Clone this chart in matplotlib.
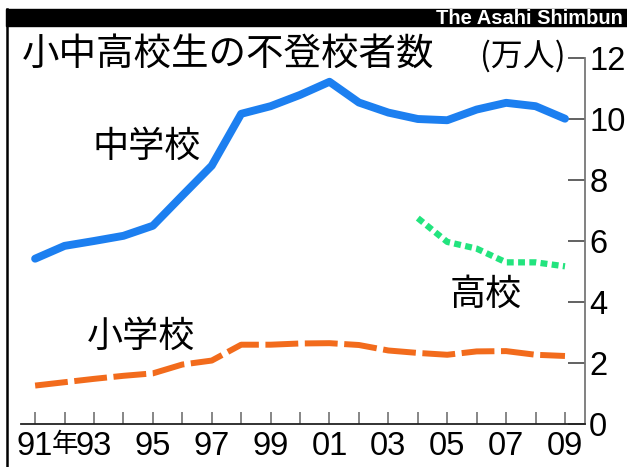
import matplotlib
matplotlib.use("Agg")
import matplotlib.pyplot as plt
from matplotlib import font_manager
from matplotlib.lines import Line2D
from matplotlib.patches import Rectangle

# data (万人)
years = list(range(1991, 2010))
junior = [5.42, 5.84, 6.00, 6.17, 6.50, 7.49, 8.47, 10.17, 10.42, 10.79,
          11.22, 10.54, 10.21, 10.00, 9.96, 10.31, 10.53, 10.42, 10.01]
elementary = [1.26, 1.37, 1.48, 1.58, 1.66, 1.95, 2.08, 2.60, 2.60, 2.64,
              2.65, 2.59, 2.41, 2.33, 2.27, 2.38, 2.39, 2.27, 2.23]
high_years = [2004, 2005, 2006, 2007, 2008, 2009]
high = [6.75, 5.97, 5.75, 5.30, 5.30, 5.17]

ytick_vals = [0, 2, 4, 6, 8, 10, 12]
xtick_labels = {1991: "91", 1992: "年", 1993: "93", 1995: "95", 1997: "97",
                1999: "99", 2001: "01", 2003: "03", 2005: "05", 2007: "07",
                2009: "09"}

names = {f.name for f in font_manager.fontManager.ttflist}
num_font = "Liberation Sans Narrow" if "Liberation Sans Narrow" in names else "Liberation Sans"
num_size = 28 if num_font.endswith("Narrow") else 23.5
jp = "Noto Sans CJK JP"
plt.rcParams['font.family'] = [num_font, jp, 'DejaVu Sans']

W, H = 627, 467
fig = plt.figure(figsize=(W / 100, H / 100), dpi=100)
fig.patch.set_facecolor("white")

ax = fig.add_axes([21 / W, 1 - 424 / H, (585 - 21) / W, (424 - 58) / H])
ax.set_facecolor("none")

ax.plot(years, junior, color="#1c7ff0", lw=5.7, solid_capstyle="round",
        solid_joinstyle="round", zorder=3)
ax.plot(years, elementary, color="#f26b1c", lw=4.3, dashes=(5.5, 1.1),
        zorder=3)
ax.plot(high_years, high, color="#22e47e", lw=4.5, dashes=(1.1, 0.7),
        zorder=3)

ax.set_xlim(1990.52, 2009.68)
ax.set_ylim(0, 12)

for s in ["top", "left"]:
    ax.spines[s].set_visible(False)
ax.spines["right"].set_color("#777777")
ax.spines["right"].set_linewidth(1.3)
ax.spines["bottom"].set_color("#222222")
ax.spines["bottom"].set_linewidth(1.3)

ax.yaxis.tick_right()
ax.set_yticks(ytick_vals)
ax.set_yticklabels([str(v) for v in ytick_vals], fontsize=num_size)
ax.tick_params(axis="y", direction="in", length=12, width=1.3,
               color="#555555", pad=3)

ax.set_xticks(years)
ax.set_xticklabels([xtick_labels.get(y, "") for y in years], fontsize=num_size)
ax.tick_params(axis="x", direction="in", length=9, width=1.1,
               color="#666666", pad=5)
for lab in ax.get_xticklabels():
    if lab.get_text() == "年":
        lab.set_fontfamily([jp])
        lab.set_fontsize(19)

ax.text(1994.8, 9.1, "中学校", fontsize=26, fontfamily=[jp],
        ha="center", va="center")
ax.text(1994.6, 2.85, "小学校", fontsize=26, fontfamily=[jp],
        ha="center", va="center")
ax.text(2006.3, 4.25, "高校", fontsize=26, fontfamily=[jp],
        ha="center", va="center")

# title and unit
fig.text(22 / W, 1 - 54 / H, "小中高校生の不登校者数", fontsize=27,
         fontfamily=[jp], ha="left", va="center")
fig.text(566 / W, 1 - 56 / H, "(万人)", fontsize=23,
         fontfamily=[jp], ha="right", va="center")

# header bar and frame
fig.patches.append(Rectangle((6 / W, 1 - 26 / H), 1 - 6 / W, 17 / H,
                             transform=fig.transFigure, color="black",
                             zorder=0))
fig.text(623 / W, 1 - 18 / H, "The Asahi Shimbun", fontsize=14.5,
         fontfamily=["Liberation Sans"], fontweight="bold", color="white",
         ha="right", va="center")
fig.lines.append(Line2D([6.5 / W, 6.5 / W], [0, 1 - 9 / H],
                        transform=fig.transFigure, color="black", lw=1.8))

fig.savefig("out.png", dpi=100)
